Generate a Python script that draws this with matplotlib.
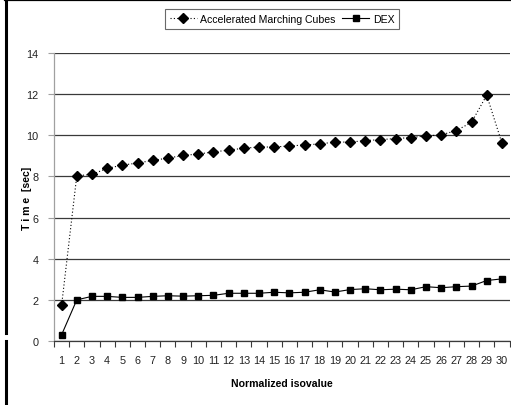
import matplotlib
matplotlib.use("Agg")
import matplotlib.pyplot as plt
from matplotlib.lines import Line2D
import numpy as np

plt.rcParams['font.family'] = ['Liberation Sans', 'DejaVu Sans']

categories = [str(i) for i in range(1, 31)]
amc = [1.73, 8.03, 8.10, 8.39, 8.55, 8.65, 8.78, 8.89, 9.02, 9.09,
       9.19, 9.28, 9.37, 9.43, 9.43, 9.48, 9.53, 9.58, 9.67, 9.67,
       9.74, 9.79, 9.84, 9.89, 9.97, 10.02, 10.23, 10.63, 11.95, 9.62]
dex = [0.30, 2.00, 2.17, 2.17, 2.12, 2.12, 2.17, 2.20, 2.18, 2.20,
       2.22, 2.32, 2.32, 2.32, 2.37, 2.34, 2.37, 2.49, 2.38, 2.50,
       2.54, 2.49, 2.52, 2.49, 2.64, 2.59, 2.64, 2.67, 2.94, 3.02]
yticks = [0, 2, 4, 6, 8, 10, 12, 14]

W, H = 511, 406
fig = plt.figure(figsize=(W / 100, H / 100), dpi=100)
ax = fig.add_axes([54 / W, (H - 342) / H, (509.5 - 54) / W, 288 / H])

x = np.arange(1, len(categories) + 1)
ax.plot(x, amc, linestyle=(0, (1, 2)), color='black', linewidth=0.8,
        marker='D', markersize=4.6, markerfacecolor='black', markeredgecolor='black',
        label='Accelerated Marching Cubes', zorder=3)
ax.plot(x, dex, linestyle='-', color='black', linewidth=0.8,
        marker='s', markersize=4.2, markerfacecolor='black', markeredgecolor='black',
        label='DEX', zorder=3)

ax.set_xlim(0.5, len(categories) + 0.5)
ax.set_ylim(0, 14)
ax.set_yticks(yticks)
ax.set_yticklabels([str(v) for v in yticks])
ax.set_xticks(x)
ax.set_xticklabels(categories)
ax.set_xticks(np.arange(0.5, len(categories) + 1, 1), minor=True)

ax.grid(axis='y', color='#3a3a3a', linewidth=0.9)
ax.set_axisbelow(True)
for s in ['top', 'right']:
    ax.spines[s].set_visible(False)
ax.spines['left'].set_color('#a0a0a0')
ax.spines['left'].set_linewidth(0.9)
ax.spines['bottom'].set_color('#3a3a3a')
ax.spines['bottom'].set_linewidth(0.9)

ax.tick_params(axis='x', which='major', length=0, pad=10, labelsize=7.8, colors='#222222')
ax.tick_params(axis='x', which='minor', length=4, direction='out', color='#3a3a3a', width=0.8)
ax.tick_params(axis='y', which='major', length=4, direction='out', color='#a0a0a0', width=0.8,
               labelsize=7.8, labelcolor='#222222', pad=7)

ax.set_xlabel('Normalized isovalue', fontsize=7.6, fontweight='bold')
ax.xaxis.set_label_coords(0.5, -(384 - 342) / 288)
ax.xaxis.label.set_va('center')
ax.set_ylabel('T i m e  [sec]', fontsize=7.6, fontweight='bold')
ax.yaxis.set_label_coords(-(54 - 27) / 455.5, 0.5)
ax.yaxis.label.set_va('center')

leg = fig.legend(loc='center', bbox_to_anchor=(282 / W, 1 - 20 / H), ncol=2,
                 fontsize=7.6, frameon=True, fancybox=False, edgecolor='#444444',
                 handlelength=2.6, columnspacing=0.6, handletextpad=0.3,
                 borderpad=0.45, borderaxespad=0)
leg.get_frame().set_linewidth(0.8)

# outer frame fragments
fig.add_artist(Line2D([6 / W, 6 / W], [1, 1 - 334 / H], transform=fig.transFigure,
                      color='black', linewidth=2.2))
fig.add_artist(Line2D([6.3 / W, 6.3 / W], [1 - 342 / H, 0], transform=fig.transFigure,
                      color='black', linewidth=2.2))
fig.add_artist(Line2D([5 / W, 1], [1 - 0.8 / H, 1 - 0.8 / H], transform=fig.transFigure,
                      color='black', linewidth=1.6))

fig.savefig('out.png', dpi=100)
